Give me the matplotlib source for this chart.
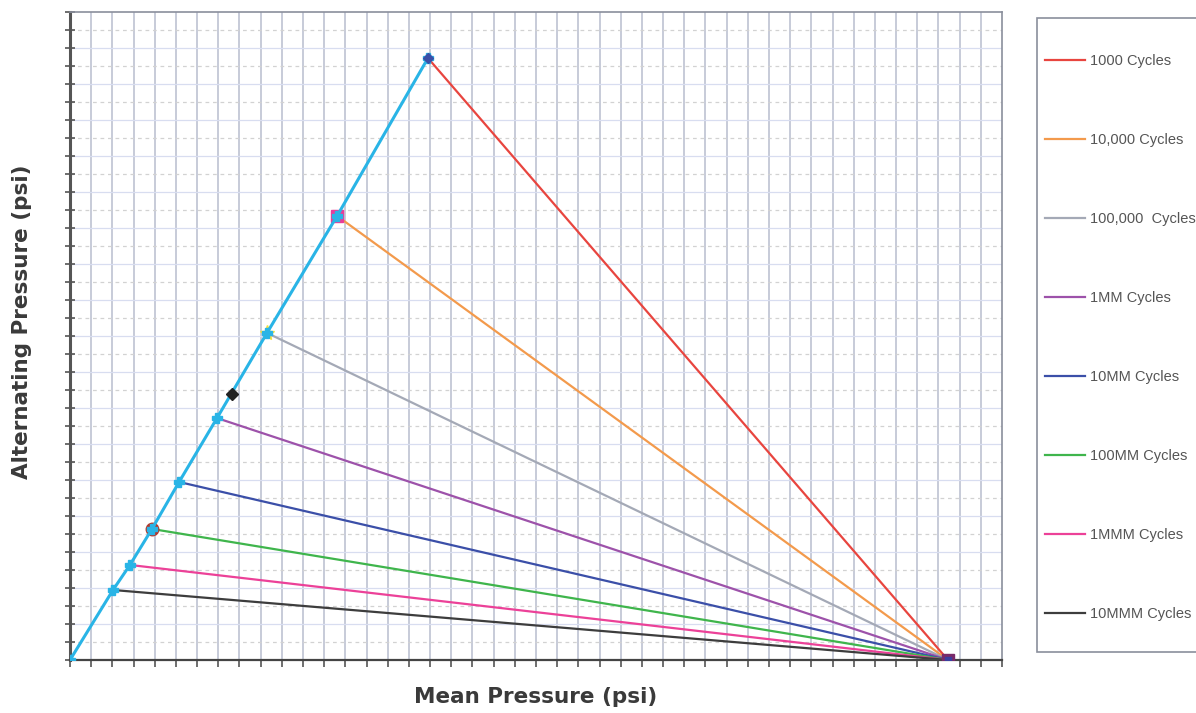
import matplotlib.pyplot as plt
from matplotlib.patches import Rectangle
import numpy as np

# values (grid units, no tick labels on the original)
labels = ["1000 Cycles", "10,000 Cycles", "100,000  Cycles", "1MM Cycles",
          "10MM Cycles", "100MM Cycles", "1MMM Cycles", "10MMM Cycles"]
colors = ["#e8453f", "#f39a4c", "#a4a9b6", "#9d52aa",
          "#3b4fa8", "#3fb54c", "#ec4198", "#3d3d3d"]
mean_pts = [16.90, 12.61, 9.30, 6.94, 5.15, 3.87, 2.83, 2.03]
alt_pts = [33.44, 24.67, 18.17, 13.44, 9.89, 7.28, 5.28, 3.89]
end_mean = 41.45
end_alt = 0.0
extra_pt = (7.65, 14.78)

fig = plt.figure(figsize=(11.96, 7.13), dpi=100)
ax = fig.add_axes([70 / 1196, 1 - 660 / 713, 932 / 1196, 648 / 713])
ax.set_xlim(0, 44)
ax.set_ylim(0, 36)

# grid
for xv in range(1, 44):
    ax.axvline(xv, color="#c3c7d6", lw=1.3, zorder=0)
for yv in range(1, 36):
    if yv % 2 == 0:
        ax.axhline(yv, color="#d8ddf0", lw=0.9, zorder=0)
    else:
        ax.axhline(yv, color="#d2d2d2", lw=0.9, ls=(0, (3, 3)), zorder=0)

# series lines
for i in range(len(labels)):
    ax.plot([mean_pts[i], end_mean], [alt_pts[i], end_alt], color=colors[i],
            lw=1.6, label=labels[i], zorder=2)

# the cyan envelope line
env_x = [0] + mean_pts[::-1]
env_y = [0] + alt_pts[::-1]
ax.plot(env_x, env_y, color="#29b4e6", lw=2.2, marker="P", ms=7,
        mec="#29b4e6", mfc="#29b4e6", zorder=3)

# odd markers
ax.plot(mean_pts[0], alt_pts[0], "D", color="#3b4fa8", ms=5, zorder=4)
ax.plot(mean_pts[1], alt_pts[1], "s", color="#e83c9a", ms=8, zorder=2.5)
ax.plot(mean_pts[2], alt_pts[2], "*", color="#f2e13a", ms=11, zorder=2.5)
ax.plot(mean_pts[5], alt_pts[5], "o", color="#b03a2e", ms=9, zorder=2.5)
ax.plot(extra_pt[0], extra_pt[1], "D", color="#222222", ms=6, zorder=4)
ax.plot(end_mean, end_alt, "s", color="#7a2a6a", ms=9, zorder=4)
ax.plot(end_mean, end_alt, "s", color="#3b3fa0", ms=5, zorder=5)

# axes look
ax.set_xticks(np.arange(0, 45, 1))
ax.set_yticks(np.arange(0, 37, 1))
ax.tick_params(axis="x", direction="out", length=5, width=1.2, colors="#555555",
               labelbottom=False)
ax.tick_params(axis="y", direction="inout", length=7, width=1.2, colors="#555555",
               labelleft=False)
for s in ["top", "right"]:
    ax.spines[s].set_color("#8a8f9c")
    ax.spines[s].set_linewidth(1.2)
ax.spines["left"].set_color("#555555")
ax.spines["left"].set_linewidth(2.2)
ax.spines["bottom"].set_color("#444444")
ax.spines["bottom"].set_linewidth(1.6)

fig.text(22 / 1196, 1 - 322 / 713, "Alternating Pressure (psi)", rotation=90,
         ha="center", va="center", fontsize=15.5, fontweight="bold",
         color="#3a3a3a", family="DejaVu Sans")
fig.text(536 / 1196, 1 - 697 / 713, "Mean Pressure (psi)", ha="center",
         va="center", fontsize=15.5, fontweight="bold", color="#3a3a3a",
         family="DejaVu Sans")

# legend box drawn separately so it can run off the right edge like the original
fig.patches.append(Rectangle((1037 / 1196, 1 - 652 / 713), 170 / 1196, 634 / 713,
                             transform=fig.transFigure, facecolor="white",
                             edgecolor="#8a8f9c", lw=1.2, zorder=0))
leg = fig.legend(loc="upper left", bbox_to_anchor=(1041 / 1196, 1 - 50 / 713),
                 frameon=False, prop={"family": "Liberation Sans", "size": 10.5},
                 labelspacing=4.45, handlelength=2.75, handletextpad=0.3,
                 borderpad=0.3, borderaxespad=0)
for t in leg.get_texts():
    t.set_color("#555555")

fig.savefig("out.png", dpi=100)
